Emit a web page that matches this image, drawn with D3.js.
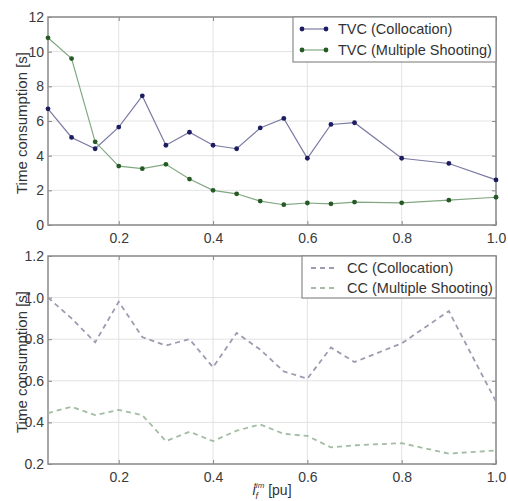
<!DOCTYPE html>
<html><head><meta charset="utf-8">
<script src="https://cdn.jsdelivr.net/npm/d3@7"></script>
<style>
body{margin:0;background:#fff;}
text{font-family:"Liberation Sans",Arial,sans-serif;}
</style></head>
<body><svg id="c" width="508" height="501"></svg>
<script>
const xs = [0.05,0.1,0.15,0.2,0.25,0.3,0.35,0.4,0.45,0.5,0.55,0.6,0.65,0.7,0.8,0.9,1.0];
const tvcColl = [6.7,5.05,4.4,5.65,7.45,4.6,5.35,4.6,4.4,5.6,6.15,3.85,5.8,5.9,3.85,3.55,2.6];
const tvcMS   = [10.8,9.6,4.8,3.4,3.25,3.5,2.65,2.0,1.8,1.38,1.17,1.27,1.22,1.32,1.28,1.43,1.6];
const ccColl  = [1.0,0.9,0.785,0.98,0.81,0.77,0.8,0.665,0.83,0.75,0.645,0.61,0.76,0.69,0.78,0.935,0.5];
const ccMS    = [0.445,0.475,0.435,0.46,0.435,0.31,0.355,0.31,0.36,0.39,0.345,0.335,0.28,0.29,0.3,0.25,0.265];
const xTicks = [0.2,0.4,0.6,0.8,1.0];
const yTicksTop = [0,2,4,6,8,10,12];
const yTicksBot = [0.2,0.4,0.6,0.8,1.0,1.2];
const legTop = ["TVC (Collocation)","TVC (Multiple Shooting)"];
const legBot = ["CC (Collocation)","CC (Multiple Shooting)"];

const svg = d3.select("#c");
const L = 48, R = 496;
const x = d3.scaleLinear().domain([0.05,1.0]).range([L,R]);

function panel(top, bottom, ydom, yticks, fmt, series, legend, legBox){
  const y = d3.scaleLinear().domain(ydom).range([bottom, top]);
  const g = svg.append("g");
  g.selectAll(".gx").data(xTicks).enter().append("line")
    .attr("x1",d=>x(d)).attr("x2",d=>x(d)).attr("y1",top).attr("y2",bottom)
    .attr("stroke","#e2e2e2").attr("stroke-width",1);
  g.selectAll(".gy").data(yticks).enter().append("line")
    .attr("x1",L).attr("x2",R).attr("y1",d=>y(d)).attr("y2",d=>y(d))
    .attr("stroke","#e2e2e2").attr("stroke-width",1);
  const ax = g.append("g").attr("transform",`translate(0,${bottom})`)
    .call(d3.axisBottom(x).tickValues(xTicks).tickFormat(d3.format(".1f")).tickSize(-4).tickPadding(8));
  const ay = g.append("g").attr("transform",`translate(${L},0)`)
    .call(d3.axisLeft(y).tickValues(yticks).tickFormat(fmt).tickSize(-4).tickPadding(4));
  const ay2 = g.append("g").attr("transform",`translate(${R},0)`)
    .call(d3.axisRight(y).tickValues(yticks).tickFormat("").tickSize(-4));
  const ax2 = g.append("g").attr("transform",`translate(0,${top})`)
    .call(d3.axisTop(x).tickValues(xTicks).tickFormat("").tickSize(-4));
  [ax,ay,ay2,ax2].forEach(a=>{
    a.select(".domain").remove();
    a.selectAll(".tick line").attr("stroke","#888");
    a.selectAll(".tick text").attr("fill","#3a3a3a").style("font-size","14px");
  });
  g.append("rect").attr("x",L).attr("y",top).attr("width",R-L).attr("height",bottom-top)
    .attr("fill","none").attr("stroke","#8a8a8a").attr("stroke-width",1.5);
  series.forEach(s=>{
    const line = d3.line().x((d,i)=>x(xs[i])).y(d=>y(d));
    g.append("path").datum(s.data).attr("d",line).attr("fill","none")
      .attr("stroke",s.line).attr("stroke-width",s.width)
      .attr("stroke-dasharray",s.dash||null);
    if(s.marker){
      g.selectAll(null).data(s.data).enter().append("circle")
        .attr("cx",(d,i)=>x(xs[i])).attr("cy",d=>y(d)).attr("r",2.4).attr("fill",s.marker);
    }
  });
  const lg = g.append("g");
  lg.append("rect").attr("x",legBox.x).attr("y",top).attr("width",R-legBox.x).attr("height",legBox.h)
    .attr("fill","#fff").attr("stroke","#8a8a8a").attr("stroke-width",1.2);
  legend.forEach((t,i)=>{
    const s = series[i];
    const yy = top + legBox.r0 + i*legBox.dy;
    const x0 = legBox.x+9, x1 = legBox.x+33;
    lg.append("line").attr("x1",x0).attr("x2",x1).attr("y1",yy).attr("y2",yy)
      .attr("stroke",s.line).attr("stroke-width",s.width).attr("stroke-dasharray",s.dash||null);
    if(s.marker){
      [x0,x1].forEach(xx=>lg.append("circle").attr("cx",xx).attr("cy",yy).attr("r",2.4).attr("fill",s.marker));
    }
    lg.append("text").attr("x",legBox.x+45).attr("y",yy+5).text(t)
      .attr("fill","#333").style("font-size","14.5px");
  });
  svg.append("text").attr("transform",`translate(27,${(top+bottom)/2+2}) rotate(-90)`)
    .attr("text-anchor","middle").attr("fill","#333").style("font-size","15px")
    .text("Time consumption [s]");
}

panel(17,225,[0,12],yTicksTop,d3.format("d"),[
  {data:tvcColl,line:"#7a7aa4",marker:"#1c1c60",width:1.2},
  {data:tvcMS,line:"#82a882",marker:"#255a25",width:1.2}
],legTop,{x:293,h:45,r0:12,dy:21});

panel(256,464,[0.2,1.2],yTicksBot,d3.format(".1f"),[
  {data:ccColl,line:"#9c9cb0",width:1.8,dash:"5,4"},
  {data:ccMS,line:"#a4bca4",width:1.8,dash:"5,4"}
],legBot,{x:302,h:42,r0:12,dy:20});

const xl = svg.append("text").attr("x",272).attr("y",495).attr("text-anchor","middle")
  .attr("fill","#333").style("font-size","14px");
xl.append("tspan").text("i").style("font-style","italic");
xl.append("tspan").text("f").attr("dy",4).style("font-size","9px").style("font-style","italic");
xl.append("tspan").text("lim").attr("dx",-4).attr("dy",-11).style("font-size","8px").style("font-style","italic");
xl.append("tspan").text(" [pu]").attr("dy",7);
</script></body></html>
